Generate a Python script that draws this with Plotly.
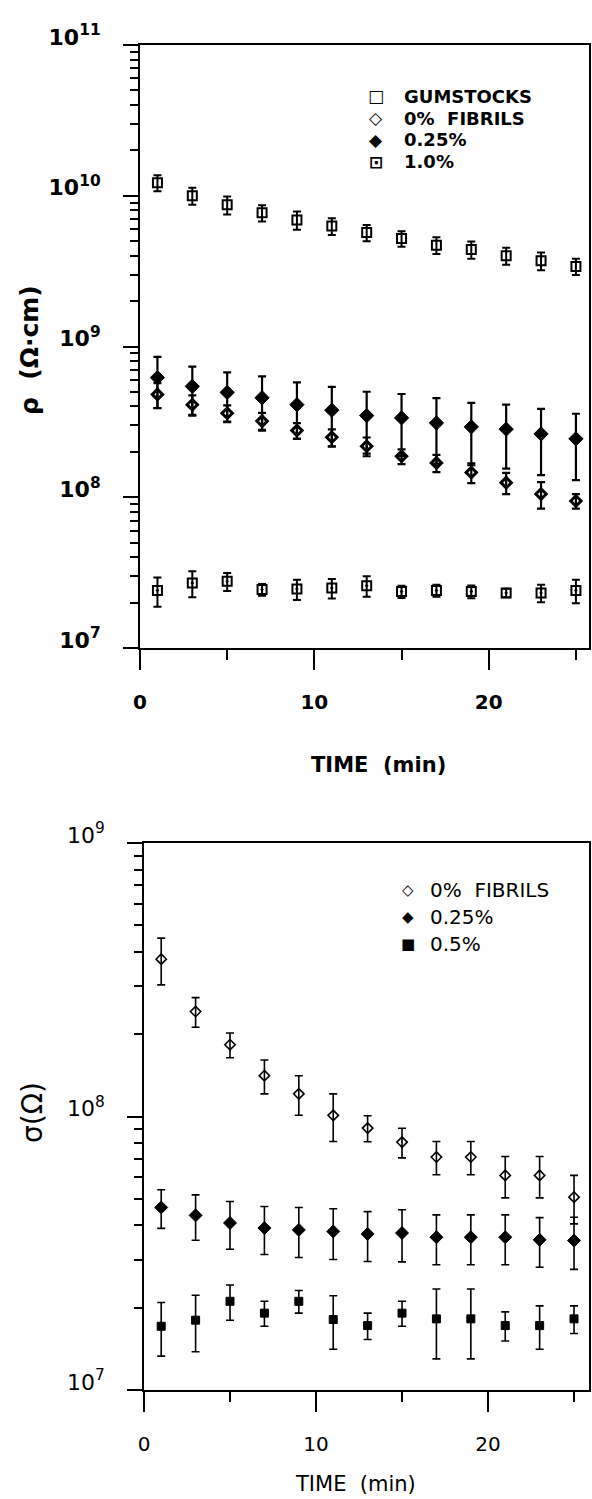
import plotly.graph_objects as go

W, H = 592, 1499

# ---------------- data ----------------
time_min = [1, 3, 5, 7, 9, 11, 13, 15, 17, 19, 21, 23, 25]

# top panel: rho (ohm*cm)
rho_gum = [1.22e10, 1.0e10, 8.7e9, 7.7e9, 6.9e9, 6.3e9, 5.7e9, 5.2e9, 4.7e9, 4.4e9, 4.0e9, 3.7e9, 3.4e9]
rho_gum_err = [1.5e9, 1.3e9, 1.2e9, 0.95e9, 0.95e9, 0.8e9, 0.7e9, 0.62e9, 0.6e9, 0.58e9, 0.52e9, 0.5e9, 0.42e9]

rho_0 = [4.81e8, 4.11e8, 3.61e8, 3.20e8, 2.77e8, 2.50e8, 2.18e8, 1.87e8, 1.69e8, 1.46e8, 1.25e8, 1.05e8, 9.45e7]
rho_0_err = [0.91e8, 0.63e8, 0.46e8, 0.43e8, 0.33e8, 0.32e8, 0.31e8, 0.21e8, 0.22e8, 0.22e8, 0.20e8, 0.21e8, 0.104e8]

rho_025 = [6.22e8, 5.44e8, 4.96e8, 4.57e8, 4.11e8, 3.78e8, 3.48e8, 3.36e8, 3.11e8, 2.93e8, 2.83e8, 2.63e8, 2.44e8]
rho_025_err = [2.31e8, 1.92e8, 1.78e8, 1.77e8, 1.67e8, 1.61e8, 1.53e8, 1.48e8, 1.44e8, 1.30e8, 1.28e8, 1.23e8, 1.14e8]

rho_10 = [2.41e7, 2.70e7, 2.77e7, 2.44e7, 2.46e7, 2.50e7, 2.59e7, 2.37e7, 2.41e7, 2.37e7, 2.32e7, 2.32e7, 2.41e7]
rho_10_err = [0.53e7, 0.53e7, 0.38e7, 0.22e7, 0.38e7, 0.37e7, 0.40e7, 0.22e7, 0.22e7, 0.23e7, 0.15e7, 0.31e7, 0.43e7]

# bottom panel: sigma (ohm)
sig_0 = [3.76e8, 2.42e8, 1.83e8, 1.41e8, 1.21e8, 1.01e8, 9.07e7, 8.06e7, 7.11e7, 7.11e7, 6.09e7, 6.09e7, 5.07e7]
sig_0_err = [0.73e8, 0.30e8, 0.19e8, 0.20e8, 0.20e8, 0.20e8, 0.99e7, 1.0e7, 0.99e7, 0.99e7, 1.05e7, 1.05e7, 1.02e7]

sig_025 = [4.65e7, 4.35e7, 4.08e7, 3.91e7, 3.85e7, 3.80e7, 3.72e7, 3.75e7, 3.62e7, 3.62e7, 3.62e7, 3.54e7, 3.52e7]
sig_025_err = [0.75e7, 0.82e7, 0.81e7, 0.78e7, 0.80e7, 0.80e7, 0.77e7, 0.81e7, 0.75e7, 0.75e7, 0.75e7, 0.73e7, 0.76e7]

sig_05 = [1.71e7, 1.80e7, 2.11e7, 1.91e7, 2.11e7, 1.81e7, 1.72e7, 1.91e7, 1.82e7, 1.82e7, 1.72e7, 1.72e7, 1.82e7]
sig_05_err = [0.38e7, 0.42e7, 0.31e7, 0.20e7, 0.20e7, 0.40e7, 0.19e7, 0.20e7, 0.52e7, 0.52e7, 0.21e7, 0.31e7, 0.21e7]

top_names = ["GUMSTOCKS", "0%  FIBRILS", "0.25%", "1.0%"]
top_symbols = ["\u25a1", "\u25c7", "\u25c6", "\u22a1"]
bot_names = ["0%  FIBRILS", "0.25%", "0.5%"]
bot_symbols = ["\u25c7", "\u25c6", "\u25a0"]

x_tickvals = [0, 10, 20]
x_ticktext = ["0", "10", "20"]
top_decades = [7, 8, 9, 10, 11]
bot_decades = [7, 8, 9]
x_title = "TIME  (min)"
top_ytitle = "\u03c1  (\u03a9\u00b7cm)"
bot_ytitle = "\u03c3(\u03a9)"

# ---------------- helpers ----------------
def px(x):
    return x / W

def py(y):
    return 1 - y / H

BOLD = dict(family="DejaVu Sans", color="black", weight="bold")
REG = dict(family="DejaVu Sans", color="black")

def minor_vals(decades):
    out = []
    for d in decades[:-1]:
        for m in range(2, 10):
            out.append(m * 10 ** d)
    return out

fig = go.Figure()

def add(x, y, err, name, symbol, size, lw, xa, ya, thick, capw):
    fig.add_trace(go.Scatter(
        x=x, y=y, mode="markers", name=name, showlegend=False,
        xaxis=xa, yaxis=ya,
        marker=dict(symbol=symbol, size=size, color="black",
                    line=dict(color="black", width=lw)),
        error_y=dict(type="data", array=err, visible=True, color="black",
                     thickness=thick, width=capw),
    ))

# top panel traces
add(time_min, rho_gum, rho_gum_err, top_names[0], "square-open", 9, 2, "x", "y", 2, 4)
add(time_min, rho_0, rho_0_err, top_names[1], "diamond-open", 8, 3, "x", "y", 2.2, 4)
add(time_min, rho_025, rho_025_err, top_names[2], "diamond", 11, 1, "x", "y", 2.2, 4)
add(time_min, rho_10, rho_10_err, top_names[3], "square-open-dot", 9, 2, "x", "y", 2, 4)

# bottom panel traces
add(time_min, sig_0, sig_0_err, bot_names[0], "diamond-open", 8, 1.6, "x2", "y2", 1.6, 4)
add(time_min, sig_025, sig_025_err, bot_names[1], "diamond", 10, 1, "x2", "y2", 1.6, 4)
add(time_min, sig_05, sig_05_err, bot_names[2], "square", 8, 1, "x2", "y2", 1.6, 4)

def xaxis(domain, rng, anchor, font, lw):
    return dict(
        domain=domain, range=rng, anchor=anchor,
        showgrid=False, zeroline=False,
        showline=True, linecolor="black", linewidth=lw, mirror=True,
        ticks="outside", ticklen=20, tickwidth=lw, tickcolor="black",
        tickmode="array", tickvals=x_tickvals, ticktext=x_ticktext,
        tickfont=dict(size=20, **font), ticklabelstandoff=15,
        minor=dict(ticks="outside", ticklen=10, tickwidth=lw, tickcolor="black",
                   tickmode="linear", tick0=0, dtick=5, showgrid=False),
        automargin=False, fixedrange=True,
    )

def yaxis(domain, decades, anchor, font, lw):
    return dict(
        domain=domain, type="log", range=[decades[0], decades[-1]], anchor=anchor,
        showgrid=False, zeroline=False,
        showline=True, linecolor="black", linewidth=lw, mirror=True,
        ticks="outside", ticklen=15, tickwidth=lw, tickcolor="black",
        tickmode="array", tickvals=[10 ** d for d in decades],
        ticktext=["10<sup>%d</sup>" % d for d in decades],
        tickfont=dict(size=22, **font), ticklabelstandoff=18, ticklabelshift=-8,
        minor=dict(ticks="outside", ticklen=8, tickwidth=lw, tickcolor="black",
                   tickmode="array", tickvals=minor_vals(decades), showgrid=False),
        automargin=False, fixedrange=True,
    )

annotations = []
# axis titles
annotations.append(dict(text=x_title, x=px(378), y=py(765), xref="paper", yref="paper",
                        showarrow=False, font=dict(size=21, **BOLD), xanchor="center", yanchor="middle"))
annotations.append(dict(text=x_title, x=px(355), y=py(1484), xref="paper", yref="paper",
                        showarrow=False, font=dict(size=21, **REG), xanchor="center", yanchor="middle"))
annotations.append(dict(text=top_ytitle, x=px(30), y=py(350), xref="paper", yref="paper",
                        showarrow=False, textangle=-90, font=dict(size=25, **BOLD),
                        xanchor="center", yanchor="middle"))
annotations.append(dict(text=bot_ytitle, x=px(32), y=py(1113), xref="paper", yref="paper",
                        showarrow=False, textangle=-90, font=dict(size=28, **REG),
                        xanchor="center", yanchor="middle"))

# legends
top_rows = [96, 118, 140, 162]
for name, sym, yy in zip(top_names, top_symbols, top_rows):
    annotations.append(dict(text=sym, x=px(376), y=py(yy), xref="paper", yref="paper",
                            showarrow=False, font=dict(size=17, **BOLD), xanchor="center", yanchor="middle"))
    annotations.append(dict(text=name, x=px(402), y=py(yy), xref="paper", yref="paper",
                            showarrow=False, font=dict(size=18, **BOLD), xanchor="left", yanchor="middle"))
bot_rows = [890, 917, 944]
for name, sym, yy in zip(bot_names, bot_symbols, bot_rows):
    annotations.append(dict(text=sym, x=px(408), y=py(yy), xref="paper", yref="paper",
                            showarrow=False, font=dict(size=15, **REG), xanchor="center", yanchor="middle"))
    annotations.append(dict(text=name, x=px(428), y=py(yy), xref="paper", yref="paper",
                            showarrow=False, font=dict(size=20, **REG), xanchor="left", yanchor="middle"))

fig.update_layout(
    width=W, height=H,
    margin=dict(l=0, r=0, t=0, b=0),
    paper_bgcolor="white", plot_bgcolor="white",
    showlegend=False,
    xaxis=xaxis([px(140), px(589)], [0, 25.75], "y", BOLD, 2),
    yaxis=yaxis([py(648), py(45)], top_decades, "x", BOLD, 2),
    xaxis2=xaxis([px(144), px(589)], [0, 25.87], "y2", REG, 1.6),
    yaxis2=yaxis([py(1390), py(843)], bot_decades, "x2", REG, 1.6),
    annotations=annotations,
)

fig.write_html("out.html")
